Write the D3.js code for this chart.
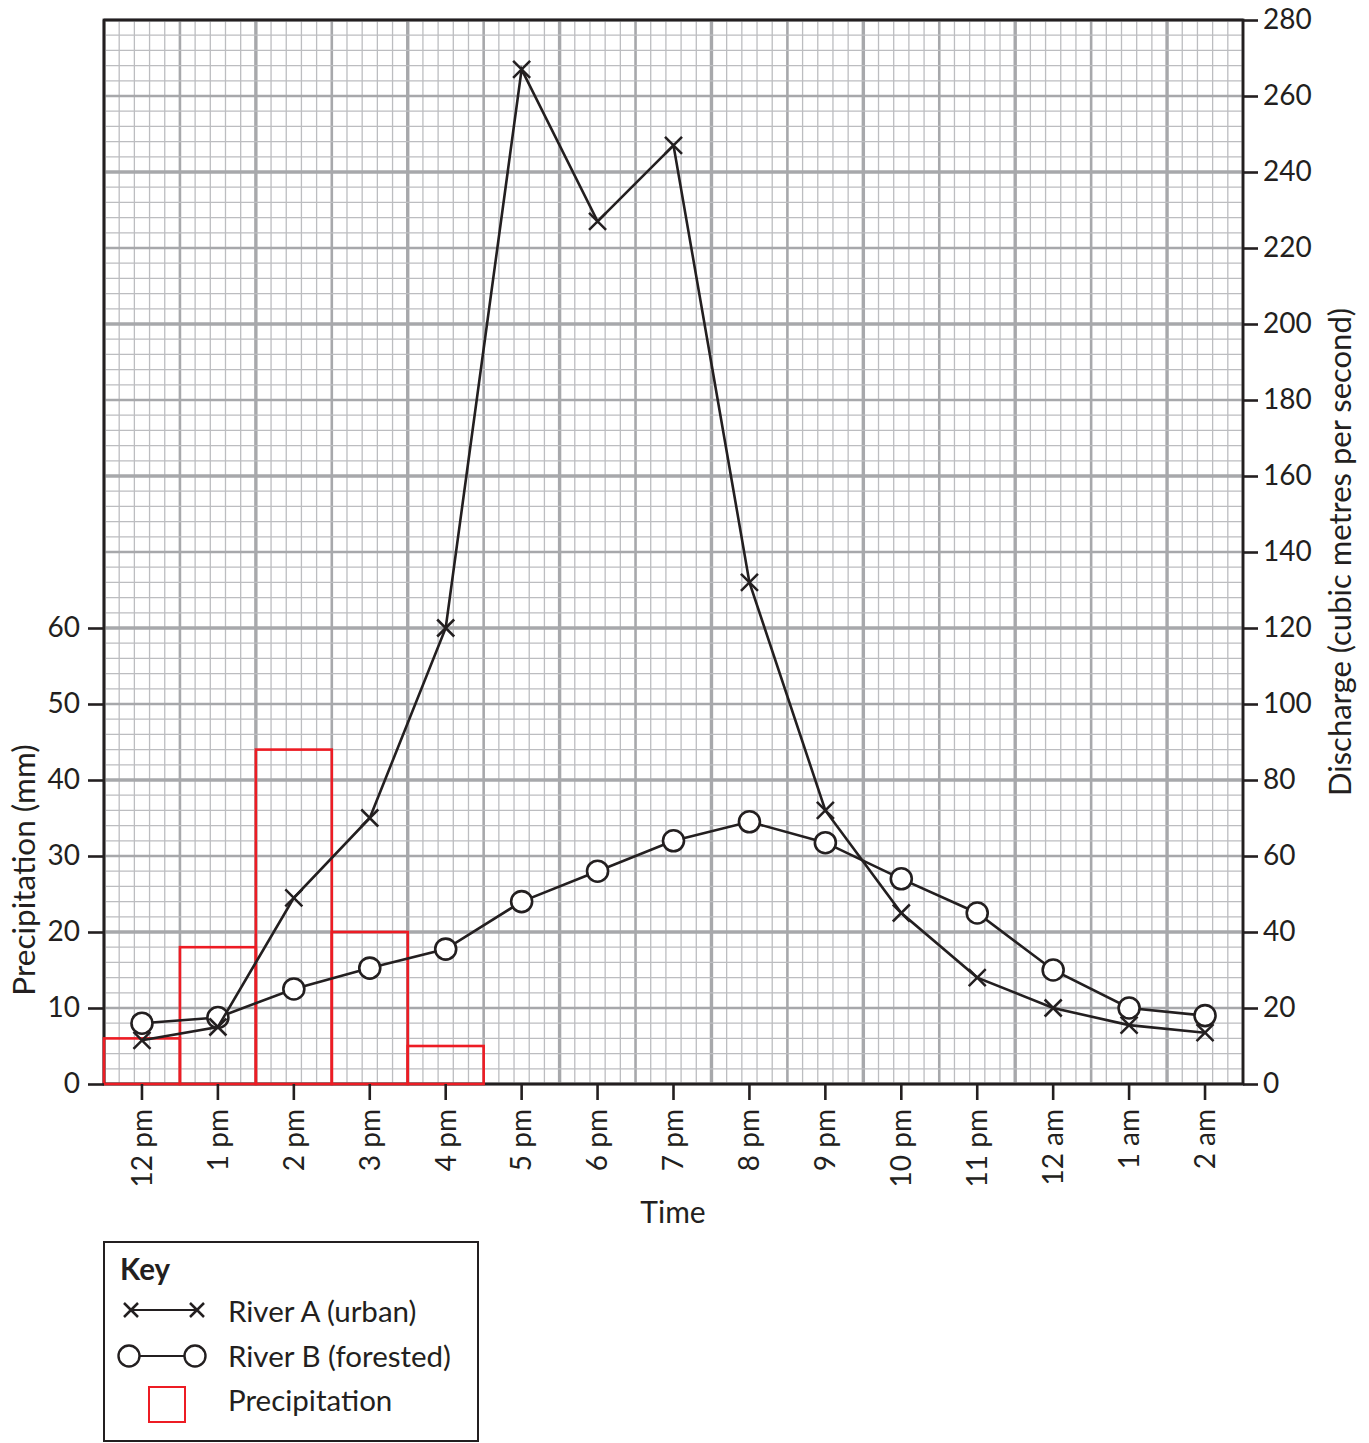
<!DOCTYPE html>
<html>
  <head>
    <meta charset="utf-8">
    <script src="https://d3js.org/d3.v7.min.js"></script>
    <title>River discharge and precipitation</title>
    <style>
      body { margin: 0; background: #fff; }
      text { font-family: Lato, "Open Sans", sans-serif; fill: #231f20; }
    </style>
  </head>
  <body>
    <svg width="1369" height="1443"></svg>
    <script>
      // Data
      const times = ['12 pm', '1 pm', '2 pm', '3 pm', '4 pm', '5 pm', '6 pm', '7 pm',
                     '8 pm', '9 pm', '10 pm', '11 pm', '12 am', '1 am', '2 am'];
      const riverA = [11.5, 15, 49, 70, 120, 267, 227, 247, 132, 72, 45, 28, 20, 15.5, 13.5];
      const riverB = [16, 17.5, 25, 30.5, 35.5, 48, 56, 64, 69, 63.5, 54, 45, 30, 20, 18];
      const precipTimes = ['12 pm', '1 pm', '2 pm', '3 pm', '4 pm'];
      const precip = [6, 18, 44, 20, 5];
      const precipTicks = [0, 10, 20, 30, 40, 50, 60];
      const dischargeTicks = d3.range(0, 281, 20);

      const svg = d3.select('svg');
      const pL = 104, pR = 1243, pT = 20, pB = 1084;
      const ink = '#231f20';
      const red = '#ed1c24';

      const x = d3.scaleBand().domain(times).range([pL, pR]);
      const cx = d => x(d) + x.bandwidth() / 2;
      const yR = d3.scaleLinear().domain([0, 280]).range([pB, pT]);
      // precipitation axis: 10 mm sits on 20 discharge units
      const yL = d3.scaleLinear().domain([0, 140]).range([pB, pT]);

      // graph paper
      const grid = svg.append('g');
      const step = x.bandwidth() / 5;
      d3.range(0, 76).forEach(i => {
        const gx = pL + i * step;
        const w = i % 10 === 0 ? 3.4 : i % 5 === 0 ? 2.6 : 1.3;
        const c = i % 5 === 0 ? '#a7a8ab' : '#bcbdc0';
        grid.append('line').attr('x1', gx).attr('x2', gx).attr('y1', pT).attr('y2', pB)
          .attr('stroke', c).attr('stroke-width', w);
      });
      d3.range(0, 281, 4).forEach(v => {
        const gy = yR(v);
        const w = v % 40 === 0 ? 3.4 : v % 20 === 0 ? 2.4 : 1.3;
        const c = v % 20 === 0 ? '#a7a8ab' : '#bcbdc0';
        grid.append('line').attr('x1', pL).attr('x2', pR).attr('y1', gy).attr('y2', gy)
          .attr('stroke', c).attr('stroke-width', w);
      });

      // frame
      svg.append('rect').attr('x', pL).attr('y', pT)
        .attr('width', pR - pL).attr('height', pB - pT)
        .attr('fill', 'none').attr('stroke', ink).attr('stroke-width', 2.8);

      // precipitation bars (outline only)
      svg.append('g').selectAll('rect').data(precip).enter().append('rect')
        .attr('x', (d, i) => x(precipTimes[i]))
        .attr('width', x.bandwidth())
        .attr('y', d => yL(d))
        .attr('height', d => yL(0) - yL(d))
        .attr('fill', 'none').attr('stroke', red).attr('stroke-width', 2.6);

      // axes
      const fs = 28;
      const axL = svg.append('g').attr('transform', `translate(${pL},0)`)
        .call(d3.axisLeft(yL).tickValues(precipTicks).tickSize(16).tickPadding(8));
      const axR = svg.append('g').attr('transform', `translate(${pR},0)`)
        .call(d3.axisRight(yR).tickValues(dischargeTicks).tickSize(15).tickPadding(5));
      const axB = svg.append('g').attr('transform', `translate(0,${pB})`)
        .call(d3.axisBottom(x).tickSize(16));
      [axL, axR, axB].forEach(a => {
        a.select('.domain').remove();
        a.selectAll('line').attr('stroke', ink).attr('stroke-width', 2.6);
        a.selectAll('text').attr('font-size', fs).attr('font-family', null).attr('fill', ink);
      });
      axB.selectAll('text')
        .attr('transform', 'rotate(-90)')
        .attr('x', -25).attr('y', 0).attr('dy', '0.35em')
        .attr('text-anchor', 'end');

      svg.append('text').attr('x', 673).attr('y', 1223).attr('text-anchor', 'middle')
        .attr('font-size', 30).text('Time');
      svg.append('text').attr('transform', 'translate(35,870) rotate(-90)')
        .attr('text-anchor', 'middle').attr('font-size', 31.5).text('Precipitation (mm)');
      svg.append('text').attr('transform', `translate(1351,${(pT + pB) / 2}) rotate(-90)`)
        .attr('text-anchor', 'middle').attr('font-size', 31)
        .text('Discharge (cubic metres per second)');

      // markers
      const cross = (g, px, py, s) => {
        g.append('path')
          .attr('d', `M${px - s},${py - s}L${px + s},${py + s}M${px - s},${py + s}L${px + s},${py - s}`)
          .attr('stroke', ink).attr('stroke-width', 2.5).attr('fill', 'none');
      };
      const lineGen = vals => d3.line().x((d, i) => cx(times[i])).y(d => yR(d))(vals);

      // River B
      svg.append('path').attr('d', lineGen(riverB))
        .attr('fill', 'none').attr('stroke', ink).attr('stroke-width', 2.6);
      svg.append('g').selectAll('circle').data(riverB).enter().append('circle')
        .attr('cx', (d, i) => cx(times[i])).attr('cy', d => yR(d)).attr('r', 10.5)
        .attr('fill', '#fff').attr('stroke', ink).attr('stroke-width', 2.6);

      // River A
      svg.append('path').attr('d', lineGen(riverA))
        .attr('fill', 'none').attr('stroke', ink).attr('stroke-width', 2.6);
      const gA = svg.append('g');
      riverA.forEach((d, i) => cross(gA, cx(times[i]), yR(d), 8.5));

      // key
      const kfs = 29.5;
      const key = svg.append('g');
      key.append('rect').attr('x', 104).attr('y', 1242).attr('width', 374).attr('height', 199)
        .attr('fill', '#fff').attr('stroke', ink).attr('stroke-width', 2);
      key.append('text').attr('x', 120).attr('y', 1280).attr('font-size', kfs)
        .attr('font-weight', 'bold').text('Key');
      key.append('line').attr('x1', 131).attr('x2', 197).attr('y1', 1310).attr('y2', 1310)
        .attr('stroke', ink).attr('stroke-width', 2);
      cross(key, 131, 1310, 7);
      cross(key, 197, 1310, 7);
      key.append('text').attr('x', 228).attr('y', 1322).attr('font-size', kfs).text('River A (urban)');
      key.append('line').attr('x1', 129).attr('x2', 195).attr('y1', 1356).attr('y2', 1356)
        .attr('stroke', ink).attr('stroke-width', 2);
      [129, 195].forEach(px => key.append('circle').attr('cx', px).attr('cy', 1356).attr('r', 10.5)
        .attr('fill', '#fff').attr('stroke', ink).attr('stroke-width', 2.4));
      key.append('text').attr('x', 228).attr('y', 1367).attr('font-size', kfs).text('River B (forested)');
      key.append('rect').attr('x', 149).attr('y', 1387).attr('width', 36).attr('height', 35)
        .attr('fill', 'none').attr('stroke', red).attr('stroke-width', 2);
      key.append('text').attr('x', 228).attr('y', 1411).attr('font-size', kfs).text('Precipitation');
    </script>
  </body>
</html>
